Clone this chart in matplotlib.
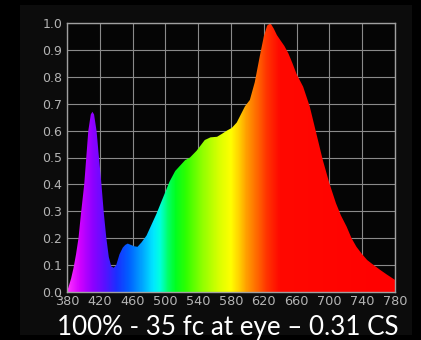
import numpy as np
import matplotlib
matplotlib.use("Agg")
import matplotlib.pyplot as plt
from matplotlib.colors import LinearSegmentedColormap
from matplotlib.patches import Rectangle

# spectrum (wavelength nm, relative power)
wavelength = [380, 382, 385, 388, 391, 394, 397, 401, 404, 406, 409, 411, 413, 416,
              419, 422, 425, 428, 431, 434, 437, 440, 444, 448, 451, 454, 458, 462,
              466, 471, 477, 483, 489, 497, 505, 512, 518, 524, 530, 538, 548, 555,
              563, 570, 575, 581, 587, 592, 597, 603, 609, 615, 620, 624, 628, 632,
              636, 640, 645, 650, 655, 660, 668, 676, 684, 692, 700, 708, 714, 721,
              727, 733, 740, 746, 754, 762, 770, 780]
power = [0.0, 0.02, 0.05, 0.09, 0.14, 0.20, 0.29, 0.40, 0.52, 0.60, 0.66, 0.67, 0.66, 0.60,
         0.50, 0.40, 0.29, 0.20, 0.13, 0.095, 0.09, 0.10, 0.14, 0.165, 0.175, 0.18, 0.175, 0.17,
         0.168, 0.185, 0.21, 0.25, 0.29, 0.35, 0.41, 0.45, 0.47, 0.49, 0.50, 0.525, 0.565, 0.575,
         0.577, 0.59, 0.60, 0.61, 0.63, 0.66, 0.69, 0.714, 0.78, 0.875, 0.95, 0.99, 1.0, 0.98,
         0.955, 0.937, 0.915, 0.887, 0.85, 0.81, 0.763, 0.69, 0.59, 0.49, 0.404, 0.33, 0.285, 0.243,
         0.20, 0.168, 0.14, 0.119, 0.10, 0.082, 0.065, 0.045]

x_ticks = [380, 420, 460, 500, 540, 580, 620, 660, 700, 740, 780]
y_ticks = [0.0, 0.1, 0.2, 0.3, 0.4, 0.5, 0.6, 0.7, 0.8, 0.9, 1.0]
caption = "100% - 35 fc at eye \u2013 0.31 CS"

# colour stops along the wavelength axis
stops = [(380, "#ff30ff"), (395, "#d000ff"), (410, "#9000ff"), (425, "#5a10ff"),
         (440, "#1a30ff"), (455, "#0060ff"), (470, "#00a0ff"), (485, "#00e8ff"),
         (493, "#00ffe0"), (502, "#00ff70"), (512, "#00ff20"), (525, "#30ff00"),
         (545, "#90ff00"), (565, "#d8ff00"), (580, "#ffff00"), (590, "#ffd000"),
         (600, "#ff9a00"), (612, "#ff6800"), (625, "#ff3000"), (640, "#ff0800"),
         (780, "#ff0000")]
cmap = LinearSegmentedColormap.from_list(
    "spec", [((w - 380) / 400, c) for w, c in stops])

fig = plt.figure(figsize=(4.21, 3.40), dpi=100, facecolor="black")
fig.patches.append(Rectangle((20 / 421, 5 / 340), 392 / 421, 330 / 340,
                             transform=fig.transFigure, facecolor="#0c0c0c",
                             edgecolor="none", zorder=-5))

ax = fig.add_axes([67 / 421, 48 / 340, 328 / 421, 269 / 340])
ax.set_zorder(2)
ax.set_facecolor("#050505")

poly = ax.fill_between(wavelength, power, 0, facecolor="none", edgecolor="none")
grad = np.linspace(0, 1, 800).reshape(1, -1)
img = ax.imshow(grad, cmap=cmap, extent=[380, 780, 0, 1], aspect="auto",
                origin="lower", zorder=2)
img.set_clip_path(poly.get_paths()[0], transform=ax.transData)

ax.set_xlim(380, 780)
ax.set_ylim(0, 1)
ax.set_xticks(x_ticks)
ax.set_yticks(y_ticks)
ax.set_xticklabels([str(v) for v in x_ticks])
ax.set_yticklabels(["%.1f" % v for v in y_ticks])
ax.grid(True, color="#8a8a8a", linewidth=0.8, zorder=1)
ax.set_axisbelow(True)
ax.tick_params(length=0, colors="#b4b4b4")
ax.tick_params(axis="x", labelsize=9.3, pad=2.5)
ax.tick_params(axis="y", labelsize=9, pad=3.5)
for s in ax.spines.values():
    s.set_color("#a0a0a0")
    s.set_linewidth(1.0)

fig.text(228 / 421, 5 / 340, caption, color="white", fontsize=18.7,
         family=["Lato", "DejaVu Sans"], ha="center", va="baseline", zorder=3)

fig.savefig("out.png", dpi=100, facecolor="black")
